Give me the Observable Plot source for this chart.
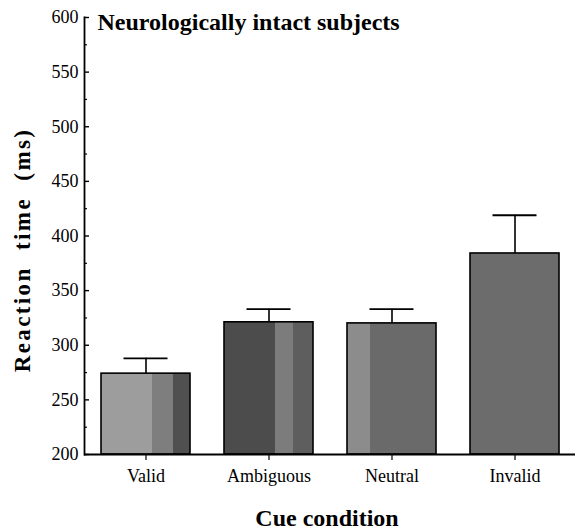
<!DOCTYPE html>
<html>
<head>
<meta charset="utf-8">
<script src="https://cdn.jsdelivr.net/npm/d3@7"></script>
<script src="https://cdn.jsdelivr.net/npm/@observablehq/plot@0.6"></script>
<style>
  html, body { margin: 0; padding: 0; background: #fff; }
  svg { display: block; }
  svg text { font-family: "Liberation Serif", "Times New Roman", serif !important; }
</style>
</head>
<body>
<div id="chart"></div>
<script>
// ---- data ----
const categories = ["Valid", "Ambiguous", "Neutral", "Invalid"];
const meanRT = [274, 321, 320, 384];
const errorRT = [14, 12, 13, 35];
const yTicks = [200, 250, 300, 350, 400, 450, 500, 550, 600];
const yMinorTicks = [225, 275, 325, 375, 425, 475, 525, 575];
const titleText = "Neurologically intact subjects";
const xLabel = "Cue condition";
const yLabel = "Reaction  time  (ms)";

// ---- styles (gradient fills imitating the halftone textures) ----
const fills = {
  Valid: [[0, "#9d9d9d"], [0.57, "#9d9d9d"], [0.57, "#7e7e7e"], [0.81, "#7e7e7e"], [0.81, "#505050"], [1, "#505050"]],
  Ambiguous: [[0, "#4c4c4c"], [0.57, "#4c4c4c"], [0.57, "#7c7c7c"], [0.78, "#7c7c7c"], [0.78, "#5e5e5e"], [1, "#5e5e5e"]],
  Neutral: [[0, "#8c8c8c"], [0.26, "#8c8c8c"], [0.26, "#6a6a6a"], [1, "#6a6a6a"]],
  Invalid: [[0, "#6c6c6c"], [1, "#6c6c6c"]]
};

const data = categories.map((c, i) => ({cat: c, mean: meanRT[i], err: errorRT[i], top: meanRT[i] + errorRT[i]}));

const font = "Liberation Serif";

const svg = Plot.plot({
  width: 575,
  height: 531,
  marginLeft: 84,
  marginRight: 0,
  marginTop: 17,
  marginBottom: 77,
  style: {fontFamily: font, fontSize: "18px", color: "#000", background: "#fff"},
  x: {domain: categories, range: [100.7, 560.7], paddingInner: 0.278, paddingOuter: 0, align: 0, label: null},
  y: {domain: [200, 600], label: null},
  color: {type: "identity"},
  marks: [
    // error bars (upper only)
    Plot.ruleX(data, {x: "cat", y1: "mean", y2: "top", stroke: "#000", strokeWidth: 1.6}),
    Plot.tickY(data, {x: "cat", y: "top", stroke: "#000", strokeWidth: 1.8, insetLeft: 22.5, insetRight: 22.5}),
    // bars
    Plot.barY(data, {x: "cat", y1: 200, y2: "mean", fill: d => `url(#fill-${d.cat})`, stroke: "#000", strokeWidth: 1.6}),
    // axes
    Plot.frame({anchor: "left", stroke: "#000", strokeWidth: 1.8}),
    Plot.ruleY([200], {stroke: "#000", strokeWidth: 1.8}),
    Plot.axisY({ticks: yTicks, tickSize: 0, tickPadding: 6, tickFormat: d => String(d), fontSize: 18, fontFamily: font, label: null}),
    Plot.axisY({ticks: yTicks, tickSize: -5, text: null, strokeWidth: 1.4, label: null}),
    Plot.axisY({ticks: yMinorTicks, tickSize: -3, text: null, strokeWidth: 1.2, label: null}),
    Plot.axisX({tickSize: 6, tickPadding: 9, fontSize: 18, fontFamily: font, strokeWidth: 1.2, label: null}),
    // title inside the plot frame
    Plot.text([titleText], {frameAnchor: "top-left", textAnchor: "start", lineAnchor: "top", dx: 13, dy: -5, fontSize: 24, fontWeight: "bold", fontFamily: font, fill: "#000"}),
    // axis labels
    Plot.text([xLabel], {frameAnchor: "bottom", lineAnchor: "bottom", dx: -3, dy: 71, fontSize: 24, fontWeight: "bold", fontFamily: font, fill: "#000"}),
    Plot.text([yLabel], {frameAnchor: "left", textAnchor: "middle", rotate: -90, dx: -62, dy: 14, fontSize: 23, fontWeight: "bold", fontFamily: font, fill: "#000"})
  ]
});

// gradient defs
const defs = d3.select(svg).insert("defs", ":first-child");
for (const [cat, stops] of Object.entries(fills)) {
  const g = defs.append("linearGradient").attr("id", `fill-${cat}`).attr("x1", 0).attr("x2", 1).attr("y1", 0).attr("y2", 0);
  for (const [o, c] of stops) g.append("stop").attr("offset", o).attr("stop-color", c);
}

// widen the y label like the scanned figure
d3.select(svg).selectAll("text").filter(function() { return this.textContent === yLabel; })
  .style("white-space", "pre").style("letter-spacing", "2.4px");

document.getElementById("chart").appendChild(svg);
</script>
</body>
</html>
